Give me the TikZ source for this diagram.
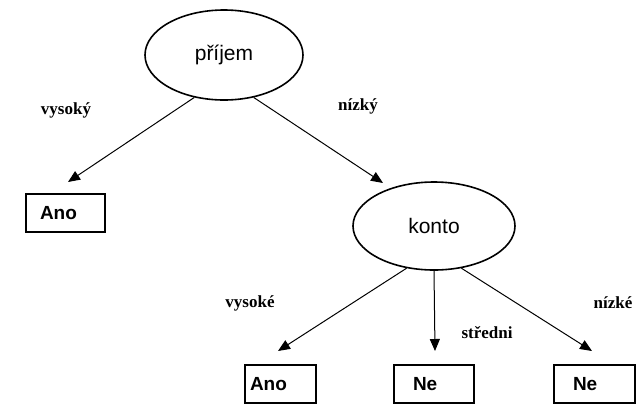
\documentclass[tikz,border=0pt]{standalone}
\usepackage{fontspec}
\setmainfont{Liberation Serif}
\newfontfamily\arialf{Liberation Sans}
\usetikzlibrary{shapes.geometric,arrows.meta}
\begin{document}
\begin{tikzpicture}[x=1pt,y=-1pt,
  inner/.style={ellipse,draw,line width=1.6pt,minimum width=158pt,minimum height=90pt,inner sep=0pt,font=\arialf\fontsize{21}{23}\selectfont},
  leaf/.style={rectangle,draw,line width=2.2pt,minimum height=38pt,align=left,inner ysep=0pt,font=\arialf\bfseries\fontsize{19}{21}\selectfont},
  edge/.style={line width=1pt,-{Triangle[length=12pt,width=10pt]}},
  lab/.style={font=\bfseries\fontsize{17}{19}\selectfont}]
\useasboundingbox (0,0) rectangle (642,405);
\node[inner] (prijem) at (224,55) {příjem};
\node[leaf,text width=51pt,inner xsep=14pt] (ano1) at (65.5,213) {Ano};
\node[inner,minimum width=162pt,minimum height=88pt] (konto) at (434,226) {konto};
\node[leaf,text width=61pt,inner xsep=5pt] (ano2) at (280.5,384) {Ano};
\node[leaf,text width=42pt,inner xsep=19pt] (ne1) at (434,384) {Ne};
\node[leaf,text width=43pt,inner xsep=19pt] (ne2) at (594.5,384) {Ne};
\coordinate (t1) at (68,182);
\coordinate (t2) at (383,183);
\coordinate (t3) at (278,351);
\coordinate (t4) at (435,351);
\coordinate (t5) at (592,351);
\draw[edge] (prijem.-125) -- (t1);
\draw[edge] (prijem.-55) -- (t2);
\draw[edge] (konto.-123) -- (t3);
\draw[edge] (konto.south) -- (t4);
\draw[edge] (konto.-57) -- (t5);
\node[lab] (l1) at (66,110) {vysoký};
\node[lab] (l2) at (358,106) {nízký};
\node[lab] (l3) at (250,303) {vysoké};
\node[lab] (l4) at (487,333) {středni};
\node[lab] (l5) at (613,303) {nízké};
\end{tikzpicture}
\end{document}
